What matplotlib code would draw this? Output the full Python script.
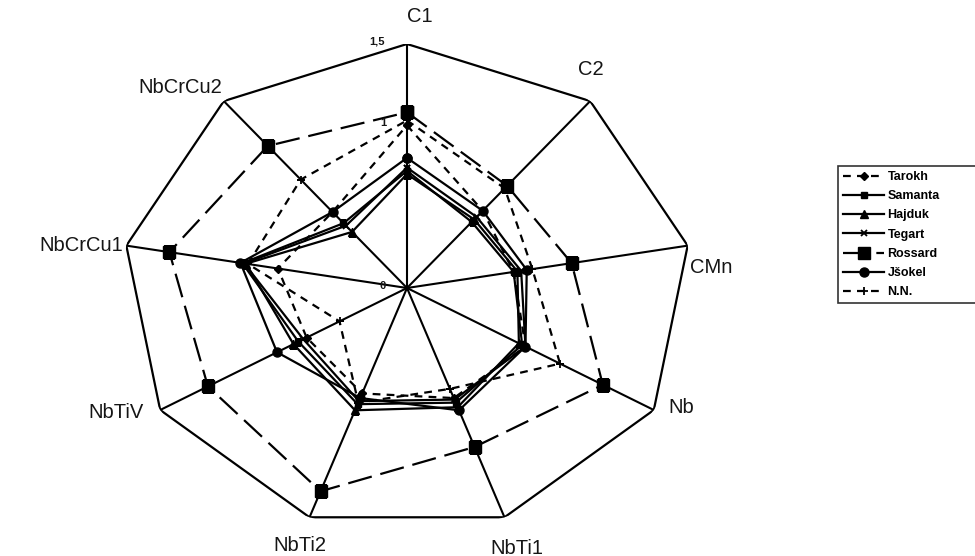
import numpy as np
import matplotlib
matplotlib.use("Agg")
import matplotlib.pyplot as plt

plt.rcParams['font.family'] = ['Liberation Sans', 'DejaVu Sans']

categories = ["C1", "C2", "CMn", "Nb", "NbTi1", "NbTi2", "NbTiV", "NbCrCu1", "NbCrCu2"]

tarokh  = [1.00, 0.62, 0.57, 0.72, 0.72, 0.69, 0.61, 0.69, 0.61]
samanta = [0.72, 0.53, 0.57, 0.70, 0.75, 0.76, 0.66, 0.88, 0.52]
hajduk  = [0.70, 0.55, 0.59, 0.68, 0.78, 0.80, 0.69, 0.86, 0.45]
tegart  = [0.74, 0.57, 0.61, 0.72, 0.73, 0.74, 0.63, 0.87, 0.50]
rossard = [1.08, 0.82, 0.88, 1.19, 1.04, 1.33, 1.21, 1.27, 1.14]
jsokel  = [0.80, 0.62, 0.64, 0.72, 0.80, 0.72, 0.79, 0.89, 0.61]
nn      = [1.03, 0.80, 0.67, 0.93, 0.66, 0.75, 0.41, 0.85, 0.87]

series_names = ["Tarokh", "Samanta", "Hajduk", "Tegart", "Rossard", "Jšokel", "N.N."]
r_ticks = [0, 1, 1.5]
r_tick_labels = ["0", "1", "1,5"]
r_max = 1.5

n = len(categories)
theta = np.arange(n) * 2 * np.pi / n
theta_c = np.append(theta, theta[0])

def closed(v):
    return list(v) + [v[0]]

fig = plt.figure(figsize=(9.75, 5.56), dpi=100)
ax = fig.add_axes([122 / 975, 24 / 556, 570 / 975, 488 / 556], projection='polar')
ax.set_theta_zero_location('N')
ax.set_theta_direction(-1)
ax.set_ylim(0, r_max)
ax.grid(False)
ax.set_xticks([])
ax.set_yticks([])
ax.spines['polar'].set_visible(False)
ax.patch.set_visible(False)

# nonagon frame and spokes
ax.plot(theta_c, [r_max] * (n + 1), color='black', lw=1.6, zorder=1)
for t in theta:
    ax.plot([t, t], [0, r_max], color='black', lw=1.5, zorder=1)

styles = {
    "Tarokh":  dict(ls=(0, (3.5, 2.8)), marker='D', ms=4),
    "Samanta": dict(ls='-', marker='s', ms=5),
    "Hajduk":  dict(ls='-', marker='^', ms=5.5),
    "Tegart":  dict(ls='-', marker='x', ms=5, mew=1.3),
    "Rossard": dict(ls=(0, (11, 4)), marker='s', ms=8),
    "Jšokel":  dict(ls='-', marker='o', ms=6.5),
    "N.N.":    dict(ls=(0, (3.5, 2.8)), marker='+', ms=6, mew=1.3),
}
data = [tarokh, samanta, hajduk, tegart, rossard, jsokel, nn]

handles = []
for name, vals in zip(series_names, data):
    st = styles[name]
    h, = ax.plot(theta_c, closed(vals), color='black', lw=1.6, zorder=3,
                 label=name, **st)
    handles.append(h)

# category labels around the frame
label_offsets = {
    "C1": (13, 27), "C2": (1, 32), "CMn": (24, -22), "Nb": (27, 2),
    "NbTi1": (12, -31), "NbTi2": (-10, -28), "NbTiV": (-44, -2),
    "NbCrCu1": (-45, 0), "NbCrCu2": (-44, 14),
}
for t, cat in zip(theta, categories):
    dx, dy = label_offsets[cat]
    ax.annotate(cat, xy=(t, r_max), xytext=(dx, dy), textcoords='offset pixels',
                ha='center', va='center', fontsize=14.5, color='#151515',
                annotation_clip=False)

# radial value labels along the first axis
for rv, lab in zip(r_ticks, r_tick_labels):
    ax.annotate(lab, xy=(0, rv), xytext=(-30 if lab == "1,5" else -24, 2),
                textcoords='offset pixels', ha='center', va='center',
                fontsize=8, fontweight='bold', color='#151515',
                annotation_clip=False)

ax.set_aspect('auto')

leg = fig.legend(handles=handles, loc='upper left',
                 bbox_to_anchor=(838 / 975, 1 - 166 / 556 - 0.01, 200 / 975, 0.01),
                 mode='expand',
                 prop={'size': 9, 'weight': 'bold'}, handlelength=3.3,
                 handletextpad=0.25, labelspacing=0.58, borderpad=0.4,
                 frameon=True, fancybox=False, borderaxespad=0)
leg.get_frame().set_edgecolor('black')
leg.get_frame().set_linewidth(1.2)

fig.savefig('out.png', dpi=100, facecolor='white')
